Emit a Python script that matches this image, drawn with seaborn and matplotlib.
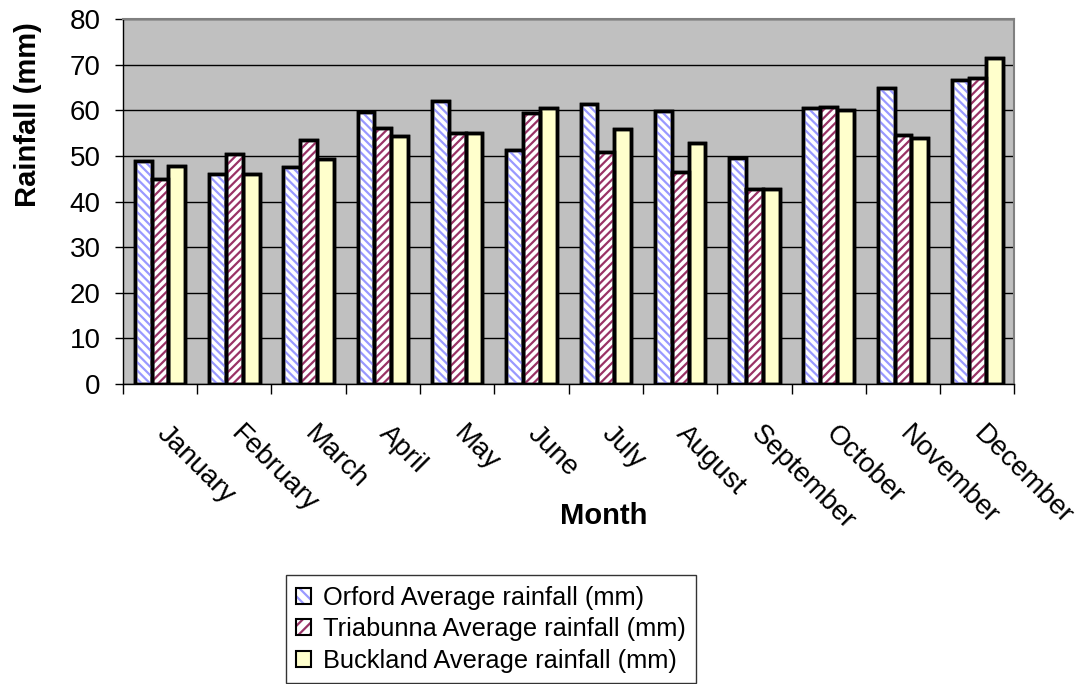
import seaborn as sns
import matplotlib.pyplot as plt
import pandas as pd
from matplotlib.patches import Patch
from matplotlib.legend_handler import HandlerTuple

months = ['January', 'February', 'March', 'April', 'May', 'June', 'July',
          'August', 'September', 'October', 'November', 'December']
orford = [49.0, 46.1, 47.6, 59.6, 62.1, 51.2, 61.3, 59.9, 49.6, 60.6, 65.0, 66.7]
triabunna = [44.9, 50.5, 53.5, 56.2, 55.0, 59.4, 50.8, 46.5, 42.7, 60.8, 54.7, 67.0]
buckland = [47.7, 46.0, 49.3, 54.4, 55.0, 60.5, 55.9, 52.8, 42.7, 60.0, 54.0, 71.5]

series = ['Orford Average rainfall (mm)', 'Triabunna Average rainfall (mm)',
          'Buckland Average rainfall (mm)']

df = pd.DataFrame({'Month': months, series[0]: orford,
                   series[1]: triabunna, series[2]: buckland})
df_melted = pd.melt(df, id_vars=['Month'], var_name='Series', value_name='Rainfall')

sns.set_style('white')
plt.rcParams['font.family'] = ['Liberation Sans', 'DejaVu Sans']
plt.rcParams['text.color'] = 'black'
plt.rcParams['axes.labelcolor'] = 'black'
plt.rcParams['xtick.color'] = 'black'
plt.rcParams['ytick.color'] = 'black'
plt.rcParams['hatch.linewidth'] = 1.6

fig = plt.figure(figsize=(10.78, 6.84), dpi=100)
ax = fig.add_axes([0.114, 0.4386, 0.827, 0.5334])
ax.set_facecolor('#C0C0C0')

sns.barplot(data=df_melted, x='Month', y='Rainfall', hue='Series', ax=ax,
            palette=['white', 'white', '#FFFFCC'], width=0.68, gap=0,
            edgecolor='black', linewidth=2.5, saturation=1, legend=False)

# hatching (colored lines) over the first two series, then black outlines on top
hatch_specs = [('\\\\\\\\', '#9999FF'), ('////', '#993366'), (None, None)]
for cont, (h, c) in zip(list(ax.containers), hatch_specs):
    for bar in cont:
        x, _ = bar.get_xy()
        w, hgt = bar.get_width(), bar.get_height()
        if h:
            ax.bar(x, hgt, width=w, align='edge', color='none', edgecolor=c,
                   hatch=h, linewidth=0, zorder=2.5)
        ax.bar(x, hgt, width=w, align='edge', color='none', edgecolor='black',
               linewidth=2.5, zorder=3)

ax.set_ylim(0, 80)
ax.set_xlim(-0.5, 11.5)
ax.set_yticks(range(0, 81, 10))
ax.yaxis.grid(True, color='black', linewidth=1)
ax.set_axisbelow(True)

ax.set_xticks([i + 0.5 for i in range(-1, 12)])
ax.set_xticklabels([])
for i, m in enumerate(months):
    ax.text(i + 0.13, -8.0, m, rotation=-45, ha='left', va='top',
            rotation_mode='anchor', fontsize=20)
ax.tick_params(axis='x', direction='out', length=7, width=1, bottom=True)
ax.tick_params(axis='y', direction='out', length=6, width=1, left=True,
               labelsize=20, pad=10)

for side in ['top', 'right']:
    ax.spines[side].set_color('#808080')
    ax.spines[side].set_linewidth(1.5)
for side in ['left', 'bottom']:
    ax.spines[side].set_color('black')
    ax.spines[side].set_linewidth(1)

ax.set_xlabel('')
ax.set_ylabel('')
fig.text(0.026, 0.832, 'Rainfall (mm)', rotation=90, ha='center', va='center',
         fontsize=21, fontweight='bold')
fig.text(0.560, 0.2456, 'Month', ha='center', va='center', fontsize=21, fontweight='bold')

outline = dict(facecolor='none', edgecolor='black', linewidth=1.5)
handles = [(Patch(facecolor='white', edgecolor='#9999FF', hatch='\\\\\\', linewidth=0),
            Patch(**outline)),
           (Patch(facecolor='white', edgecolor='#993366', hatch='///', linewidth=0),
            Patch(**outline)),
           (Patch(facecolor='#FFFFCC', linewidth=0), Patch(**outline))]
leg = fig.legend(handles, series, loc='lower left', bbox_to_anchor=(0.265, 0.0015),
                 handler_map={tuple: HandlerTuple(ndivide=1)},
                 fontsize=18.3, frameon=True, fancybox=False, edgecolor='black',
                 handlelength=0.6, handleheight=0.6, handletextpad=0.45,
                 labelspacing=0.3, borderpad=0.4, borderaxespad=0)
leg.get_frame().set_linewidth(1)

fig.savefig('out.png', dpi=100)
